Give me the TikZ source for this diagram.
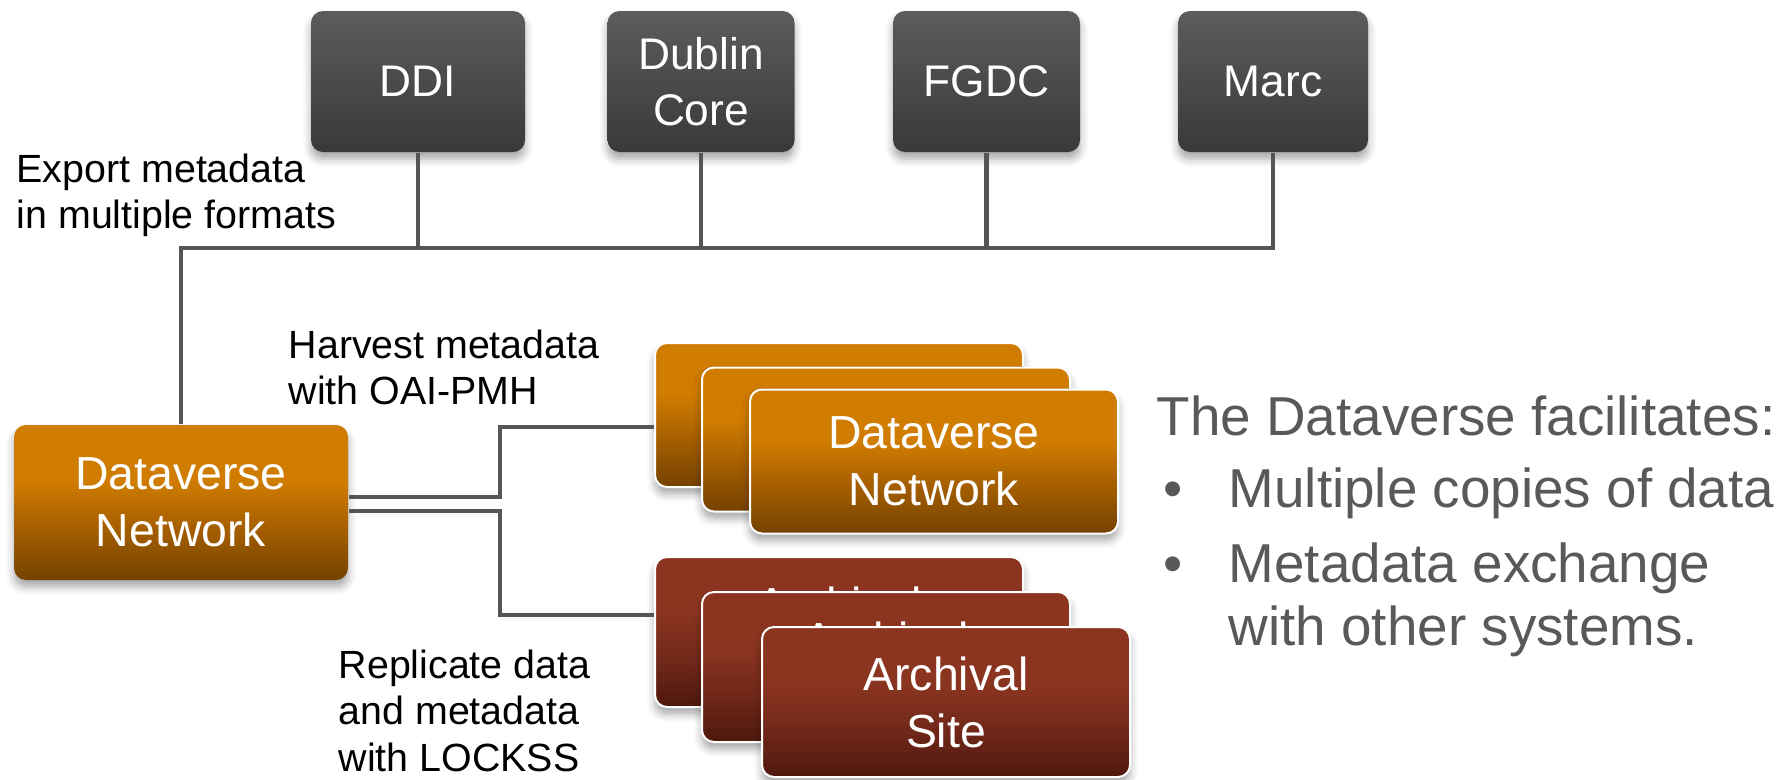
\documentclass[tikz,border=0pt]{standalone}
\usepackage{fontspec}
\setmainfont{Liberation Sans}
\usetikzlibrary{calc,positioning,shadows.blur}

\definecolor{grayTop}{HTML}{5C5C5C}
\definecolor{grayBot}{HTML}{393939}
\definecolor{dvTop}{HTML}{D07C00}
\definecolor{dvMid}{HTML}{A65F00}
\definecolor{dvBot}{HTML}{744200}
\definecolor{arTop}{HTML}{8B3521}
\definecolor{arMid}{HTML}{73291A}
\definecolor{arBot}{HTML}{4E180D}
\definecolor{linkGray}{HTML}{555555}
\definecolor{sideGray}{HTML}{595959}

\pgfdeclareverticalshading{grayshade}{100bp}{color(0bp)=(grayBot); color(25bp)=(grayBot); color(75bp)=(grayTop); color(100bp)=(grayTop)}
\pgfdeclareverticalshading{dvshade}{100bp}{color(0bp)=(dvBot); color(25bp)=(dvBot); color(42bp)=(dvMid); color(57bp)=(dvTop); color(100bp)=(dvTop)}
\pgfdeclareverticalshading{arshade}{100bp}{color(0bp)=(arBot); color(25bp)=(arBot); color(42bp)=(arMid); color(57bp)=(arTop); color(100bp)=(arTop)}

\tikzset{
  boxshadow/.style={blur shadow={shadow xshift=0cm, shadow yshift=-0.07cm, shadow blur radius=0.08cm, shadow opacity=35}},
  fmtbox/.style={rounded corners=0.12cm, shade, shading=grayshade, text=white, align=center,
    minimum width=1.87cm, minimum height=1.41cm, inner sep=0pt, boxshadow,
    font=\fontsize{12.6}{16}\selectfont},
  dvbox/.style={rounded corners=0.12cm, shade, shading=dvshade, text=white, align=center,
    minimum width=3.68cm, minimum height=1.44cm, inner sep=0pt, boxshadow,
    font=\fontsize{13.2}{16.2}\selectfont},
  arbox/.style={dvbox, shading=arshade, minimum height=1.50cm},
  stacked/.style={draw=white, line width=0.02cm},
  link/.style={draw=linkGray, line width=0.047cm},
  note/.style={align=left, inner sep=0pt, anchor=north west, font=\fontsize{11.2}{13.2}\selectfont},
}

\begin{document}
\begin{tikzpicture}
    \useasboundingbox (0,0) rectangle (17.88,-7.79);

    % Formats
    \node[fmtbox, minimum width=2.14cm] (ddi) at (4.18,-0.815) {DDI};
    \node[fmtbox] (dublin) at (7.01,-0.815) {Dublin\\Core};
    \node[fmtbox] (fgdc) at (9.865,-0.815) {FGDC};
    \node[fmtbox, minimum width=1.90cm] (marc) at (12.73,-0.815) {Marc};

    % Local network
    \node[dvbox, minimum width=3.34cm, minimum height=1.55cm] (dvn) at (1.81,-5.025) {Dataverse\\Network};

    % Other networks
    \node[dvbox, stacked] (dvback) at (8.39,-4.15) {};
    \node[dvbox, stacked] (dvmid) at ($(dvback)+(0.47,-0.245)$) {};
    \node[dvbox, stacked] (dvfront) at ($(dvmid)+(0.48,-0.22)$) {Dataverse\\Network};

    % Archival sites
    \node[arbox, stacked] (arback) at (8.39,-6.32) {Archival\\Site};
    \node[arbox, stacked] (armid) at ($(arback)+(0.47,-0.35)$) {Archival\\Site};
    \node[arbox, stacked] (arfront) at ($(armid)+(0.60,-0.35)$) {Archival\\Site};

    % Connection
    \coordinate (bus) at (0,-2.48);
    \coordinate (up) at (5.00,-4.27);
    \coordinate (down) at (5.00,-6.15);
    \draw[link] (dvn.north) |- (marc.south |- bus) -- (marc.south);
    \foreach \fmt in {ddi,dublin,fgdc}
      \draw[link] (\fmt.south) -- (\fmt.south |- bus);
    \draw[link] ([yshift=0.055cm]dvn.east) -| (up) -- (up -| dvback.west);
    \draw[link] ([yshift=-0.085cm]dvn.east) -| (down) -- (down -| arback.west);

    % Text
    \node[note] (exportlbl) at (0.16,-1.53) {Export metadata\\in multiple formats};
    \node[note] (harvestlbl) at (2.88,-3.29) {Harvest metadata\\with OAI-PMH};
    \node[note] (replicatelbl) at (3.38,-6.49) {Replicate data\\and metadata\\with LOCKSS};

    \node[note, text=sideGray, font=\fontsize{15.6}{17.9}\selectfont] (facts) at (11.56,-3.95)
      {The Dataverse facilitates:\\[0.09cm]
       \makebox[0.72cm][l]{\hspace{0.07cm}•}Multiple copies of data\\[0.12cm]
       \makebox[0.72cm][l]{\hspace{0.07cm}•}Metadata exchange\\
       \hspace*{0.72cm}with other systems.};
\end{tikzpicture}
\end{document}
